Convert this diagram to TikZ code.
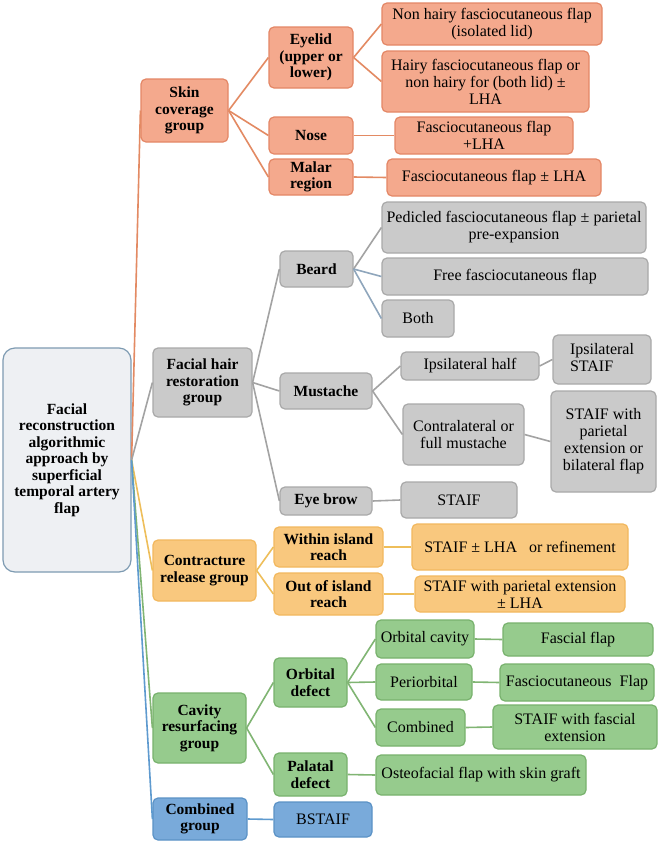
\documentclass[tikz,border=0pt]{standalone}
\usepackage{fontspec}
\setmainfont{Liberation Serif}
\definecolor{orF}{HTML}{F4A98D}\definecolor{orD}{HTML}{E48766}\definecolor{orL}{HTML}{E38A63}
\definecolor{grF}{HTML}{CACACA}\definecolor{grD}{HTML}{A9A9A9}\definecolor{grL}{HTML}{A3A3A3}
\definecolor{yeF}{HTML}{F9C87E}\definecolor{yeD}{HTML}{F2B85E}\definecolor{yeL}{HTML}{EEBE5A}
\definecolor{gnF}{HTML}{96CB8D}\definecolor{gnD}{HTML}{78B26D}\definecolor{gnL}{HTML}{80B573}
\definecolor{blF}{HTML}{79AADA}\definecolor{blD}{HTML}{5B92C6}\definecolor{blL}{HTML}{5E9ACF}
\definecolor{rtF}{HTML}{EEF0F3}\definecolor{rtD}{HTML}{7E9BB2}
\definecolor{bgL}{HTML}{8FA6BC}
\newcommand\mybox[7]{\node[#6, minimum width={(#4)-(#2)}, minimum height={(#5)-(#3)}] (#1) at ({((#2)+(#4))/2},{((#3)+(#5))/2}) {#7};}
\tikzset{
  base/.style={draw, rounded corners=5pt, line width=1.2pt, inner sep=0pt, align=center,
    font=\fontsize{16}{17}\selectfont},
  bbase/.style={base, font=\fontsize{15.5}{16.5}\selectfont\bfseries},
  orbox/.style={base, fill=orF, draw=orD}, orbold/.style={bbase, fill=orF, draw=orD},
  grbox/.style={base, fill=grF, draw=grD}, grbold/.style={bbase, fill=grF, draw=grD},
  yebox/.style={base, fill=yeF, draw=yeD}, yebold/.style={bbase, fill=yeF, draw=yeD},
  gnbox/.style={base, fill=gnF, draw=gnD}, gnbold/.style={bbase, fill=gnF, draw=gnD},
  blbox/.style={base, fill=blF, draw=blD}, blbold/.style={bbase, fill=blF, draw=blD},
  rtbox/.style={bbase, fill=rtF, draw=rtD, rounded corners=12pt},
  conn/.style={line width=1.6pt},
  orline/.style={conn, draw=orL}, grline/.style={conn, draw=grL}, yeline/.style={conn, draw=yeL},
  gnline/.style={conn, draw=gnL}, blline/.style={conn, draw=blL}, bgline/.style={conn, draw=bgL}
}
\begin{document}
\begin{tikzpicture}[x=1pt,y=-1pt]
\fill[white] (0,0) rectangle (661,844);
\path[use as bounding box] (0,0) rectangle (661,844);
% root
\mybox{root}{3}{348}{131}{572}{rtbox}{Facial\\reconstruction\\algorithmic\\approach by\\superficial\\temporal artery\\flap}
% groups
\mybox{skin}{141}{79}{228}{142}{orbold}{Skin\\coverage\\group}
\mybox{hair}{153}{348}{252}{417}{grbold}{Facial hair\\restoration\\group}
\mybox{contr}{153}{540}{256}{601}{yebold}{Contracture\\release group}
\mybox{cavity}{153}{693}{246}{763}{gnbold}{Cavity\\resurfacing\\group}
\mybox{combg}{153}{798}{247}{840}{blbold}{Combined\\group}
% column 2
\mybox{eyelid}{269}{27}{353}{88}{orbold}{Eyelid\\(upper or\\lower)}
\mybox{nose}{269}{117}{353}{154}{orbold}{Nose}
\mybox{malar}{269}{159}{353}{195}{orbold}{Malar\\region}
\mybox{beard}{280}{251}{353}{287}{grbold}{Beard}
\mybox{must}{280}{373}{372}{409}{grbold}{Mustache}
\mybox{brow}{280}{487}{372}{515}{grbold}{Eye brow}
\mybox{within}{274}{527}{383}{567}{yebold}{Within island\\reach}
\mybox{outof}{274}{573}{383}{615}{yebold}{Out of island\\reach}
\mybox{orbd}{274}{658}{347}{707}{gnbold}{Orbital\\defect}
\mybox{palat}{274}{753}{347}{796}{gnbold}{Palatal\\defect}
\mybox{bstaif}{274}{802}{372}{837}{blbox}{BSTAIF}
% column 3
\mybox{nonh}{382}{3}{602}{45}{orbox}{Non hairy fasciocutaneous flap\\(isolated lid)}
\mybox{hairy}{382}{51}{589}{112}{orbox}{Hairy fasciocutaneous flap or\\non hairy for (both lid) ±\\LHA}
\mybox{fcl}{395}{117}{573}{154}{orbox}{Fasciocutaneous flap\\+LHA}
\mybox{fpm}{387}{159}{601}{196}{orbox}{Fasciocutaneous flap ± LHA}
\mybox{ped}{382}{202}{646}{253}{grbox}{Pedicled fasciocutaneous flap ± parietal\\pre-expansion}
\mybox{free}{382}{258}{648}{295}{grbox}{Free fasciocutaneous flap}
\mybox{both}{382}{300}{454}{337}{grbox}{Both}
\mybox{ipsh}{401}{352}{539}{380}{grbox}{Ipsilateral half}
\mybox{contra}{403}{404}{524}{465}{grbox}{Contralateral or\\full mustache}
\mybox{staif}{401}{482}{517}{518}{grbox}{STAIF}
\mybox{stlha}{412}{524}{628}{570}{yebox}{STAIF ± LHA\ \ \ or refinement}
\mybox{stpar}{415}{576}{625}{612}{yebox}{STAIF with parietal extension\\± LHA}
\mybox{orbc}{376}{620}{474}{658}{gnbox}{Orbital cavity}
\mybox{peri}{376}{664}{472}{700}{gnbox}{Periorbital}
\mybox{combn}{376}{709}{465}{746}{gnbox}{Combined}
\mybox{osteo}{376}{755}{586}{795}{gnbox}{Osteofacial flap with skin graft}
% column 4
\mybox{ipst}{553}{335}{651}{384}{grbox}{\begin{tabular}{@{}l@{}}Ipsilateral\\STAIF\end{tabular}}
\mybox{stbil}{551}{391}{656}{492}{grbox}{STAIF with\\parietal\\extension or\\bilateral flap}
\mybox{fasc}{503}{623}{653}{656}{gnbox}{Fascial flap}
\mybox{fascc}{500}{664}{654}{701}{gnbox}{Fasciocutaneous\ \ Flap}
\mybox{stfe}{493}{705}{657}{749}{gnbox}{STAIF with fascial\\extension}
% connectors from root
\draw[orline] (root.east) -- (skin.west);
\draw[grline] (root.east) -- (hair.west);
\draw[yeline] (root.east) -- (contr.west);
\draw[gnline] (root.east) -- (cavity.west);
\draw[blline] (root.east) -- (combg.west);
% skin
\draw[orline] (skin.east) -- (eyelid.west);
\draw[orline] (skin.east) -- (nose.west);
\draw[orline] (skin.east) -- (malar.west);
\draw[orline] (eyelid.east) -- (nonh.west);
\draw[orline] (eyelid.east) -- (hairy.west);
\draw[orline] (nose.east) -- (fcl.west);
\draw[orline] (malar.east) -- (fpm.west);
% hair
\draw[grline] (hair.east) -- (beard.west);
\draw[grline] (hair.east) -- (must.west);
\draw[grline] (hair.east) -- (brow.west);
\draw[grline] (beard.east) -- (ped.west);
\draw[bgline] (beard.east) -- (free.west);
\draw[bgline] (beard.east) -- (both.west);
\draw[grline] (must.east) -- (ipsh.west);
\draw[grline] (must.east) -- (contra.west);
\draw[grline] (ipsh.east) -- (ipst.west);
\draw[grline] (contra.east) -- (stbil.west);
\draw[grline] (brow.east) -- (staif.west);
% contracture
\draw[yeline] (contr.east) -- (within.west);
\draw[yeline] (contr.east) -- (outof.west);
\draw[yeline] (within.east) -- (stlha.west);
\draw[yeline] (outof.east) -- (stpar.west);
% cavity
\draw[gnline] (cavity.east) -- (orbd.west);
\draw[gnline] (cavity.east) -- (palat.west);
\draw[gnline] (orbd.east) -- (orbc.west);
\draw[gnline] (orbd.east) -- (peri.west);
\draw[gnline] (orbd.east) -- (combn.west);
\draw[gnline] (orbc.east) -- (fasc.west);
\draw[gnline] (peri.east) -- (fascc.west);
\draw[gnline] (combn.east) -- (stfe.west);
\draw[gnline] (palat.east) -- (osteo.west);
% combined
\draw[blline] (combg.east) -- (bstaif.west);
\end{tikzpicture}
\end{document}
